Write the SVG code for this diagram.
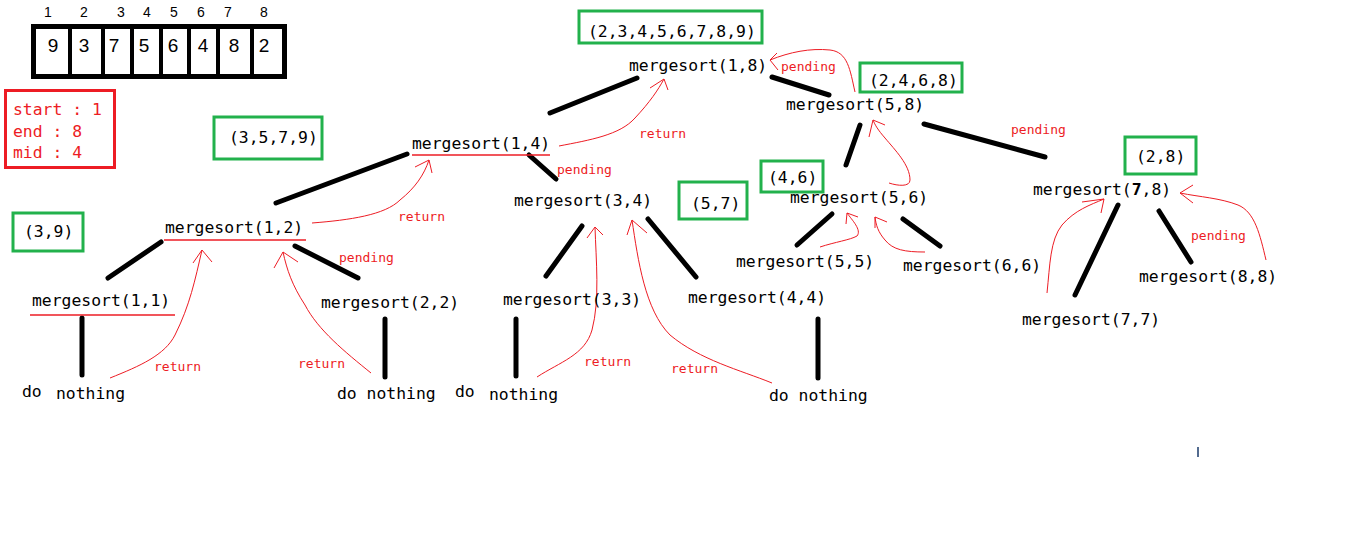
<svg xmlns="http://www.w3.org/2000/svg" width="1354" height="553" viewBox="0 0 1354 553">
<style>
.t{font-family:"DejaVu Sans Mono","Liberation Mono",monospace;font-size:16.4px;fill:#000}
.r{font-family:"DejaVu Sans Mono","Liberation Mono",monospace;font-size:13px;fill:#ed1c24}
.rt{font-family:"DejaVu Sans Mono","Liberation Mono",monospace;font-size:16.4px;fill:#ed1c24}
.idx{font-family:"Liberation Sans",Arial,sans-serif;font-size:14px;fill:#000;text-anchor:middle}
.val{font-family:"Liberation Sans",Arial,sans-serif;font-size:19px;fill:#000;text-anchor:middle}
.g{fill:none;stroke:#22b14c;stroke-width:3}
.e{stroke:#000;stroke-width:5;stroke-linecap:round;fill:none}
.c{stroke:#ed1c24;stroke-width:1;fill:none}
.u{stroke:#ed1c24;stroke-width:1.5}
</style>
<rect width="1354" height="553" fill="#fff"/>

<g id="array">
  <rect x="33.5" y="26.5" width="251" height="50" fill="none" stroke="#000" stroke-width="5"/>
  <g stroke="#000" stroke-width="4">
    <line x1="70" y1="26" x2="70" y2="79"/>
    <line x1="103" y1="26" x2="103" y2="79"/>
    <line x1="132" y1="26" x2="132" y2="79"/>
    <line x1="161" y1="26" x2="161" y2="77"/>
    <line x1="189" y1="26" x2="189" y2="77"/>
    <line x1="218" y1="26" x2="218" y2="79"/>
    <line x1="252" y1="26" x2="252" y2="79"/>
  </g>
  <text class="idx" x="48" y="17">1</text>
  <text class="idx" x="84" y="17">2</text>
  <text class="idx" x="121" y="17">3</text>
  <text class="idx" x="147" y="17">4</text>
  <text class="idx" x="174" y="17">5</text>
  <text class="idx" x="201" y="17">6</text>
  <text class="idx" x="228" y="17">7</text>
  <text class="idx" x="264" y="17">8</text>
  <text class="val" x="53" y="52">9</text>
  <text class="val" x="84" y="52">3</text>
  <text class="val" x="114" y="52">7</text>
  <text class="val" x="144" y="52">5</text>
  <text class="val" x="173" y="52">6</text>
  <text class="val" x="203" y="52">4</text>
  <text class="val" x="234" y="52">8</text>
  <text class="val" x="264" y="52">2</text>
</g>

<g id="vars">
  <rect x="5.5" y="90.5" width="109" height="77" fill="none" stroke="#ed1c24" stroke-width="3"/>
  <text class="rt" x="13" y="115">start : 1</text>
  <text class="rt" x="13" y="137">end : 8</text>
  <text class="rt" x="13" y="158">mid : 4</text>
</g>

<g id="results">
  <g id="res18"><rect class="g" x="579" y="11" width="183" height="32"/><text class="t" x="588" y="37">(2,3,4,5,6,7,8,9)</text></g>
  <g id="res58"><rect class="g" x="860" y="63" width="102" height="29"/><text class="t" x="869" y="86">(2,4,6,8)</text></g>
  <g id="res14"><rect class="g" x="214" y="117" width="108" height="42"/><text class="t" x="229" y="143">(3,5,7,9)</text></g>
  <g id="res12"><rect class="g" x="13" y="213" width="70" height="38"/><text class="t" x="24" y="237">(3,9)</text></g>
  <g id="res34"><rect class="g" x="679" y="182" width="68" height="37"/><text class="t" x="691" y="209">(5,7)</text></g>
  <g id="res56"><rect class="g" x="761" y="161" width="62" height="31"/><text class="t" x="768" y="183">(4,6)</text></g>
  <g id="res78"><rect class="g" x="1125" y="137" width="71" height="37" stroke-width="4"/><text class="t" x="1136" y="162">(2,8)</text></g>
</g>

<g id="connectors">
  <line class="e" x1="550" y1="113" x2="637" y2="78"/>
  <line class="e" x1="772" y1="77" x2="829" y2="95"/>
  <line class="e" x1="276" y1="203" x2="407" y2="154"/>
  <line class="e" x1="529" y1="155" x2="556" y2="179"/>
  <line class="e" x1="108" y1="278" x2="161" y2="242"/>
  <line class="e" x1="295" y1="246" x2="358" y2="278"/>
  <line class="e" x1="82" y1="318" x2="82" y2="375"/>
  <line class="e" x1="385" y1="319" x2="385" y2="377"/>
  <line class="e" x1="582" y1="226" x2="546" y2="276"/>
  <line class="e" x1="648" y1="219" x2="696" y2="277"/>
  <line class="e" x1="516" y1="319" x2="516" y2="376"/>
  <line class="e" x1="818" y1="319" x2="818" y2="378"/>
  <line class="e" x1="860" y1="125" x2="846" y2="165"/>
  <line class="e" x1="924" y1="124" x2="1045" y2="157"/>
  <line class="e" x1="832" y1="214" x2="797" y2="245"/>
  <line class="e" x1="903" y1="219" x2="940" y2="246"/>
  <line class="e" x1="1118" y1="205" x2="1075" y2="295"/>
  <line class="e" x1="1159" y1="211" x2="1191" y2="262"/>

  <line class="u" x1="412" y1="155" x2="550" y2="155"/>
  <line class="u" x1="164" y1="240" x2="306" y2="240"/>
  <line class="u" x1="30" y1="315" x2="175" y2="315"/>

  <path class="c" d="M110,378 C140,366 165,355 175,335 C190,305 195,280 202,250 M193,263 L202,250 L212,262"/>
  <path class="c" d="M371,373 C345,352 318,330 305,305 C292,285 287,270 283,252 M274,268 L283,252 L298,262"/>
  <path class="c" d="M312,223 C350,220 385,215 400,200 C415,188 424,175 429,160 M415,167 L429,160 L432,173"/>
  <path class="c" d="M559,146 C590,140 620,135 635,118 C650,102 658,90 664,79 M650,88 L664,79 L668,90"/>
  <path class="c" d="M537,377 C560,362 585,355 592,330 C600,300 596,260 595,227 M587,238 L595,227 L603,235"/>
  <path class="c" d="M772,383 C740,370 700,360 670,335 C645,310 638,260 632,220 M627,235 L632,220 L647,233"/>
  <path class="c" d="M855,92 C850,70 848,52 830,50 C810,48 790,52 770,60 M777,53 L770,60 L778,70"/>
  <path class="c" d="M889,183 C898,186 910,187 910,180 C910,165 895,150 885,138 C878,130 875,125 873,120 M869,137 L873,120 L885,125"/>
  <path class="c" d="M820,247 C835,242 850,240 857,236 C862,230 852,220 847,213 M846,224 L847,213 L858,217"/>
  <path class="c" d="M925,252 C905,252 893,250 885,240 C878,232 876,225 875,217 M875,228 L875,217 L887,222"/>
  <path class="c" d="M1047,293 C1050,265 1050,240 1062,225 C1075,210 1090,205 1104,199 M1082,202 L1104,199 L1101,213"/>
  <path class="c" d="M1266,260 C1260,235 1255,212 1238,205 C1220,198 1200,197 1180,193 M1193,185 L1180,193 L1193,203"/>

  <text class="r" x="154" y="371">return</text>
  <text class="r" x="298" y="368">return</text>
  <text class="r" x="339" y="262">pending</text>
  <text class="r" x="398" y="221">return</text>
  <text class="r" x="639" y="138">return</text>
  <text class="r" x="557" y="174">pending</text>
  <text class="r" x="781" y="71">pending</text>
  <text class="r" x="584" y="366">return</text>
  <text class="r" x="671" y="373">return</text>
  <text class="r" x="1011" y="134">pending</text>
  <text class="r" x="1191" y="240">pending</text>
</g>

<g id="n18"><text class="t" x="629" y="71">mergesort(1,8)</text></g>
<g id="n58"><text class="t" x="786" y="110">mergesort(5,8)</text></g>
<g id="n14"><text class="t" x="412" y="149">mergesort(1,4)</text></g>
<g id="n34"><text class="t" x="514" y="206">mergesort(3,4)</text></g>
<g id="n12"><text class="t" x="165" y="233">mergesort(1,2)</text></g>
<g id="n11"><text class="t" x="32" y="306">mergesort(1,1)</text></g>
<g id="n22"><text class="t" x="321" y="308">mergesort(2,2)</text></g>
<g id="n33"><text class="t" x="503" y="305">mergesort(3,3)</text></g>
<g id="n44"><text class="t" x="688" y="303">mergesort(4,4)</text></g>
<g id="n56"><text class="t" x="790" y="203">mergesort(5,6)</text></g>
<g id="n55"><text class="t" x="736" y="267">mergesort(5,5)</text></g>
<g id="n66"><text class="t" x="903" y="271">mergesort(6,6)</text></g>
<g id="n78"><text class="t" x="1033" y="195">mergesort(<tspan font-weight="bold">7</tspan>,8)</text></g>
<g id="n88"><text class="t" x="1139" y="282">mergesort(8,8)</text></g>
<g id="n77"><text class="t" x="1022" y="325">mergesort(7,7)</text></g>

<g id="leaf11"><text class="t" x="22" y="397">do</text><text class="t" x="56" y="399">nothing</text></g>
<g id="leaf22"><text class="t" x="337" y="399">do nothing</text></g>
<g id="leaf33"><text class="t" x="455" y="397">do</text><text class="t" x="489" y="400">nothing</text></g>
<g id="leaf44"><text class="t" x="769" y="401">do nothing</text></g>

<line x1="1198" y1="447" x2="1198" y2="457" stroke="#1a3a6a" stroke-width="1.5"/>
</svg>
